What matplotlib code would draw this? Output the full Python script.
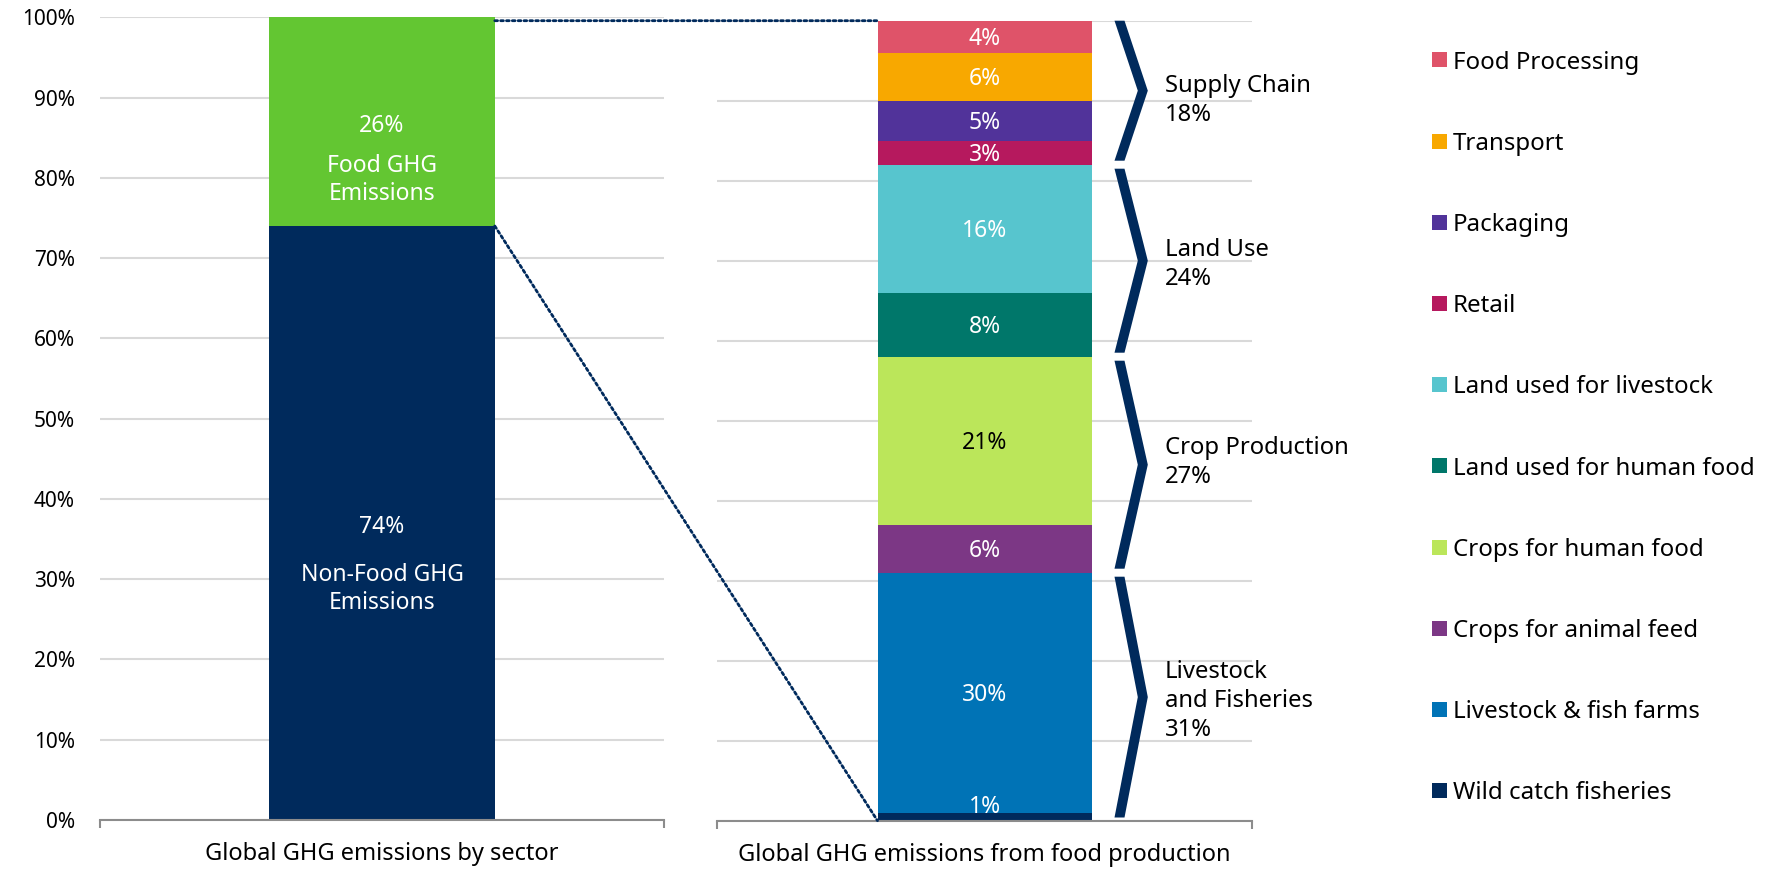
import matplotlib
matplotlib.use("Agg")
import matplotlib.pyplot as plt
from matplotlib.patches import Polygon, Rectangle, ConnectionPatch
from matplotlib.transforms import blended_transform_factory

plt.rcParams['font.family'] = ['Noto Sans', 'DejaVu Sans']

# left bar: share of all GHG emissions
sector_names = ["Non-Food GHG\nEmissions", "Food GHG\nEmissions"]
sector_vals = [74, 26]
sector_colors = ["#002A5C", "#63C632"]

# right bar: breakdown of food emissions, bottom to top
food_names = ["Wild catch fisheries", "Livestock & fish farms", "Crops for animal feed",
              "Crops for human food", "Land used for human food", "Land used for livestock",
              "Retail", "Packaging", "Transport", "Food Processing"]
food_vals = [1, 30, 6, 21, 8, 16, 3, 5, 6, 4]
food_colors = ["#002A5C", "#0073B6", "#7C3785", "#BBE65A", "#00776A", "#57C5CE",
               "#B6195E", "#51339A", "#F8A800", "#DF5369"]
food_text = ["white", "white", "white", "black", "white", "white",
             "white", "white", "white", "white"]

# groups of the breakdown (number of segments in each, bottom to top)
group_names = ["Livestock\nand Fisheries", "Crop Production", "Land Use", "Supply Chain"]
group_sizes = [2, 2, 2, 4]

cat_left = "Global GHG emissions by sector"
cat_right = "Global GHG emissions from food production"

W, H = 1778, 871
navy = "#002A5C"
grid_c = "#D9D9D9"
axis_c = "#8C8C8C"

fig = plt.figure(figsize=(W / 100, H / 100), dpi=100)


def px_axes(x0, x1, ytop, ybot):
    return fig.add_axes([x0 / W, (H - ybot) / H, (x1 - x0) / W, (ybot - ytop) / H])


def line_text(ax, x, y, s, down_px, fs, color, ha="center"):
    # place one line of text so its cap height is centred down_px below (x, y)
    em = fs * 100 / 72
    dy = -(down_px + 0.357 * em) * 0.72
    ax.annotate(s, (x, y), xytext=(0, dy), textcoords="offset points",
                ha=ha, va="baseline", color=color, fontsize=fs, annotation_clip=False)


axl = px_axes(100, 664, 17.3, 820)
axr = px_axes(717, 1252, 20.7, 820.7)

for ax, cat in ((axl, cat_left), (axr, cat_right)):
    ax.set_xlim(-0.5, 0.5)
    ax.set_ylim(0, 100)
    ax.set_yticks(range(0, 101, 10))
    ax.yaxis.grid(True, color=grid_c, lw=1.5)
    ax.set_axisbelow(True)
    for s in ("top", "right", "left"):
        ax.spines[s].set_visible(False)
    ax.spines["bottom"].set_color(axis_c)
    ax.spines["bottom"].set_linewidth(1.5)
    ax.set_xticks([0])
    ax.set_xticklabels([cat], fontsize=17)
    ax.set_xticks([-0.5, 0.5], minor=True)
    ax.tick_params(axis="x", which="major", length=0, pad=16)
    ax.tick_params(axis="x", which="minor", length=6, width=1.5, color=axis_c)
    ax.tick_params(axis="y", length=0)

axl.set_yticklabels([f"{v}%" for v in range(0, 101, 10)], fontsize=15)
axl.tick_params(axis="y", pad=18)
axr.set_yticklabels([])

# left stacked bar
bottom = 0
name_offsets = [(49.8, 77.5), (42.1, 69.7)]
for v, c, name, offs in zip(sector_vals, sector_colors, sector_names, name_offsets):
    axl.bar(0, v, width=0.4, bottom=bottom, color=c)
    mid = bottom + v / 2
    line_text(axl, 0, mid, f"{v}%", 2.3, 16.5, "white")
    for ln, off in zip(name.split("\n"), offs):
        line_text(axl, 0, mid, ln, off, 16.5, "white")
    bottom += v

# right stacked bar
bottom = 0
for v, c, tc in zip(food_vals, food_colors, food_text):
    axr.bar(0, v, width=0.4, bottom=bottom, color=c)
    line_text(axr, 0, max(bottom + v / 2, 2.0), f"{v}%", 0, 16.5, tc)
    bottom += v

# braces and group labels
px = 1 / 535
label_shift = [2.2, -5.2, 1.5, 5.6]
start = 0
lo = 0
for name, n, shift in zip(group_names, group_sizes, label_shift):
    total = sum(food_vals[start:start + n])
    hi = lo + total
    y0 = lo + (0.5 if lo > 0 else 0.4)
    y1 = hi - (0.5 if hi < 100 else 0)
    ym = (y0 + y1) / 2
    xa = 0.2 + 23 * px
    xb = xa + 10 * px
    xt = 0.2 + 56.3 * px
    brace = Polygon([(xa, y1), (xb, y1), (xt, ym), (xb, y0), (xa, y0), (xt - 10 * px, ym)],
                    closed=True, facecolor=navy, edgecolor="none", clip_on=False)
    axr.add_patch(brace)
    lines = name.split("\n") + [f"{total}%"]
    for k, ln in enumerate(lines):
        off = shift + (k - (len(lines) - 1) / 2) * 29
        line_text(axr, 0.2 + 73.6 * px, (lo + hi) / 2, ln, off, 17.2, "black", ha="left")
    lo = hi
    start += n

# dotted connectors between the bars
top_tr = blended_transform_factory(axl.transData, axr.transData)
links = [((0.2, 100), top_tr, (-0.2, 100)),
         ((0.2, sector_vals[0]), axl.transData, (-0.2, 0))]
for xyA, trA, xyB in links:
    con = ConnectionPatch(xyA=xyA, coordsA=trA, xyB=xyB, coordsB=axr.transData,
                          color=navy, lw=2.0, linestyle=(0, (1, 1.1)))
    fig.add_artist(con)

# legend, top to bottom
for i, (name, c) in enumerate(zip(food_names[::-1], food_colors[::-1])):
    yc = 60 + i * 81.2
    fig.add_artist(Rectangle((1432 / W, (H - yc - 7.5) / H), 15 / W, 15 / H,
                             transform=fig.transFigure, facecolor=c, edgecolor="none"))
    em = 17.3 * 100 / 72
    fig.text(1453 / W, (H - yc - 0.357 * em) / H, name, ha="left", va="baseline",
             fontsize=17.3, color="black")

fig.savefig("out.png", dpi=100)
